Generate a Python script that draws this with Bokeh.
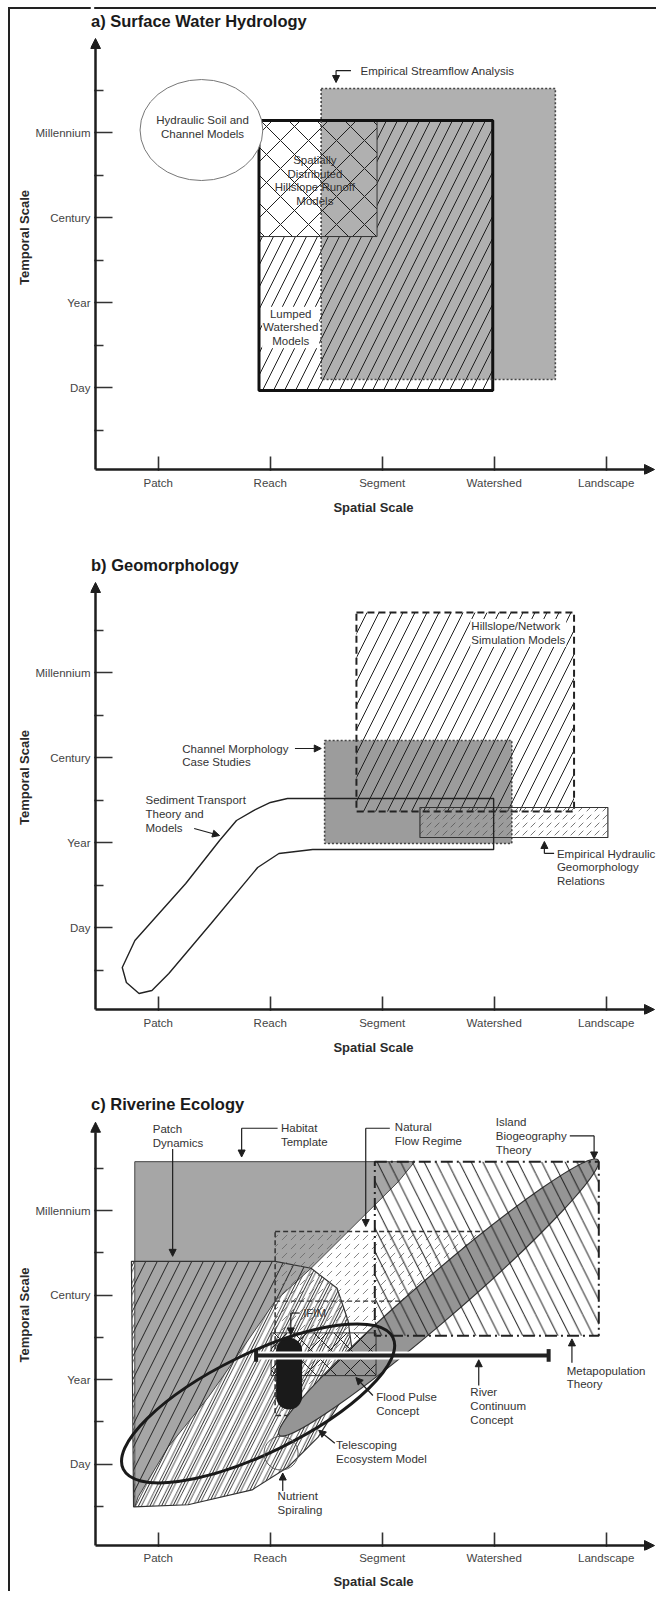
from bokeh.plotting import figure
from bokeh.layouts import column
from bokeh.models import Range1d, FixedTicker, Label, Arrow, NormalHead, BoxAnnotation
from bokeh.embed import file_html
from bokeh.resources import INLINE

FONT = "Liberation Sans"
INK = "#1e1e1e"
TEXT = "#333333"
TICK_TEXT = "#444444"
GRAY_A = "#b0b0b0"
GRAY_B = "#9c9c9c"
GRAY_C = "#a6a6a6"
GRAY_ISLAND = "#959595"

# ---------------- axis categories ----------------
x_ticks = [1, 2, 3, 4, 5]
x_labels = ["Patch", "Reach", "Segment", "Watershed", "Landscape"]
y_ticks = [1, 2, 3, 4]
y_labels = ["Day", "Year", "Century", "Millennium"]
y_minor = [0.5, 1.5, 2.5, 3.5, 4.5]

# ---------------- a) Surface Water Hydrology (spatial x, temporal y extents) ----------------
streamflow_x = [2.455, 4.546]
streamflow_y = [1.094, 4.518]
lumped_x = [1.900, 3.987]
lumped_y = [0.965, 4.141]
distributed_x = [1.900, 2.954]
distributed_y = [2.776, 4.141]
hydraulic_xy = [1.386, 4.029]
hydraulic_wh = [1.096, 1.188]

# ---------------- b) Geomorphology ----------------
hillslope_x = [2.770, 4.713]
hillslope_y = [2.365, 4.706]
channel_x = [2.486, 4.157]
channel_y = [1.988, 3.200]
hydgeo_x = [3.337, 5.015]
hydgeo_y = [2.059, 2.412]
sediment_x = [3.995, 2.154, 2.002, 1.851, 1.699, 1.548, 1.246, 0.792, 0.679, 0.716,
              0.829, 0.944, 1.095, 1.472, 1.888, 2.078, 2.380, 3.995]
sediment_y = [2.518, 2.518, 2.471, 2.376, 2.259, 2.024, 1.518, 0.847, 0.529, 0.353,
              0.224, 0.259, 0.459, 1.047, 1.706, 1.871, 1.918, 1.918]

# ---------------- c) Riverine Ecology ----------------
habitat_x = [0.791, 3.291, 3.142, 2.365, 2.044, 1.651, 1.446, 1.088, 0.821, 0.791]
habitat_y = [4.580, 4.580, 4.341, 3.318, 2.929, 2.176, 1.788, 1.200, 0.612, 0.494]
patchdyn_x = [0.761, 2.044, 2.365, 2.597, 2.696, 2.740, 2.651, 2.428, 2.160, 1.838, 1.267, 0.780]
patchdyn_y = [3.400, 3.400, 3.318, 3.082, 2.694, 2.259, 1.788, 1.318, 0.965, 0.694, 0.518, 0.494]
flowreg_x = [2.044, 4.196, 2.276, 2.044]
flowreg_y = [3.753, 3.753, 1.576, 1.576]
flowreg_inner_x = [2.044, 3.200]
flowreg_inner_y = [2.929, 2.929]
metapop_x = [2.934, 4.934]
metapop_y = [2.518, 4.580]
island_xy = [3.504, 2.971]
island_wh = [3.76, 0.518]
island_angle = 0.712
flood_x = [2.008, 2.945]
flood_y = [2.047, 2.553]
ifim_x = [2.169, 2.169]
ifim_y = [1.800, 2.341]
continuum_x = [1.874, 4.486]
continuum_y = [2.286, 2.286]
telescoping_xy = [1.892, 1.718]
telescoping_wh = [2.679, 1.176]
telescoping_angle = 0.454
nutrient_xy = [2.097, 1.129]
nutrient_wh = [0.304, 0.400]

# ---------------- frame geometry ----------------
FIG_W = 656
PX_X, PX_Y = 112.0, 85.0          # pixels per scale step
BORDER_LEFT = 90
X_AXIS = 1 - 62.7 / PX_X          # the temporal axis stands 5 px inside the frame
X_START = X_AXIS - 5 / PX_X
X_END = X_START + (FIG_W - BORDER_LEFT) / PX_X
X_ARROW = X_START + 564 / PX_X
Y_END = 4 + 132 / PX_Y
Y_AXIS = 4 - (469 - 132) / PX_Y   # the spatial axis stands 5 px above the frame bottom
Y_START = 4 - (474 - 132) / PX_Y


def base_figure(height, title, title_xy, y_arrow_top, tick_standoff=2, label_standoff=8):
    p = figure(width=FIG_W, height=height, x_range=Range1d(X_START, X_END),
               y_range=Range1d(Y_START, Y_END),
               output_backend="svg", toolbar_location=None, title=None,
               min_border_left=BORDER_LEFT, min_border_right=0, min_border_top=0,
               min_border_bottom=height - 474)
    p.xgrid.visible = False
    p.ygrid.visible = False
    p.outline_line_color = None
    p.background_fill_color = None
    p.border_fill_color = None
    xa = p.xaxis[0]
    ya = p.yaxis[0]
    xa.ticker = FixedTicker(ticks=x_ticks, minor_ticks=[])
    xa.major_label_overrides = {t: l for t, l in zip(x_ticks, x_labels)}
    ya.ticker = FixedTicker(ticks=y_ticks, minor_ticks=y_minor)
    ya.major_label_overrides = {t: l for t, l in zip(y_ticks, y_labels)}
    for ax in (xa, ya):
        ax.axis_line_color = None
        ax.major_tick_out = -3
        ax.minor_tick_out = -3
        ax.major_tick_line_color = "#333333"
        ax.major_tick_line_width = 1.6
        ax.minor_tick_line_color = "#333333"
        ax.minor_tick_line_width = 1.6
        ax.major_label_text_font = FONT
        ax.major_label_text_font_size = "11.5px"
        ax.major_label_text_color = TICK_TEXT
        ax.axis_label_text_font = FONT
        ax.axis_label_text_font_style = "bold"
        ax.axis_label_text_font_size = "13px"
        ax.axis_label_text_color = "#2a2a2a"
    xa.major_tick_in = 18
    ya.major_tick_in = 22
    ya.minor_tick_in = 13
    xa.major_label_standoff = tick_standoff
    ya.major_label_standoff = 3
    xa.axis_label = "Spatial Scale"
    ya.axis_label = "Temporal Scale"
    xa.axis_label_standoff = label_standoff
    ya.axis_label_standoff = 1
    # white strips keep the frame edge clean outside the arrowed axis lines
    p.add_layout(BoxAnnotation(right=X_AXIS - 1.3 / PX_X, fill_color="white", fill_alpha=1,
                               line_color=None))
    p.add_layout(BoxAnnotation(top=Y_AXIS - 1.3 / PX_Y, fill_color="white", fill_alpha=1,
                               line_color=None))
    head = dict(size=10, fill_color=INK, line_color=INK, line_width=1)
    p.add_layout(Arrow(end=NormalHead(**head), x_start=X_AXIS, y_start=Y_AXIS, x_end=X_AXIS,
                       y_end=y_arrow_top, line_color=INK, line_width=2.5))
    p.add_layout(Arrow(end=NormalHead(**head), x_start=X_AXIS, y_start=Y_AXIS, x_end=X_ARROW,
                       y_end=Y_AXIS, line_color=INK, line_width=2.5))
    p.add_layout(Label(x=title_xy[0], y=title_xy[1], text=title, text_font=FONT,
                       text_font_style="bold", text_font_size="16.5px", text_color="#1a1a1a",
                       text_baseline="middle", text_align="left"))
    return p


def label(p, x, y, text, align="left", bg=None):
    p.add_layout(Label(x=x, y=y, text=text, text_font=FONT, text_font_size="11.5px",
                       text_color=TEXT, text_align=align, text_baseline="middle",
                       text_line_height=1.15, background_fill_color=bg,
                       padding=1 if bg else 0))


def leader(p, xs, ys):
    if len(xs) > 2:
        p.line(xs[:-1], ys[:-1], line_color=INK, line_width=1.2)
    p.add_layout(Arrow(end=NormalHead(size=7, fill_color=INK, line_color=INK, line_width=1),
                       x_start=xs[-2], y_start=ys[-2], x_end=xs[-1], y_end=ys[-1],
                       line_color=INK, line_width=1.2))


def box(p, xs, ys, **kw):
    return p.quad(left=[xs[0]], right=[xs[1]], bottom=[ys[0]], top=[ys[1]], **kw)


# ======================= panel a =======================
pa = base_figure(540, "a) Surface Water Hydrology", (0.400, 5.306), 5.106)
box(pa, streamflow_x, streamflow_y, fill_color=GRAY_A, line_color=None)
box(pa, lumped_x, lumped_y, fill_color=None, line_color=None,
    hatch_pattern="right_diagonal_line", hatch_scale=22, hatch_weight=1, hatch_color=INK)
box(pa, distributed_x, distributed_y, fill_color="white", line_color=None)
ov_x = [max(streamflow_x[0], distributed_x[0]), min(streamflow_x[1], distributed_x[1])]
ov_y = [max(streamflow_y[0], distributed_y[0]), min(streamflow_y[1], distributed_y[1])]
box(pa, ov_x, ov_y, fill_color=GRAY_A, line_color=None)
box(pa, distributed_x, distributed_y, fill_color=None, line_color="#333333", line_width=1,
    hatch_pattern="diagonal_cross", hatch_scale=28, hatch_weight=1, hatch_color=INK)
box(pa, lumped_x, lumped_y, fill_color=None, line_color="#111111", line_width=3)
box(pa, streamflow_x, streamflow_y, fill_color=None, line_color="#444444", line_width=1.6, line_dash="2 2")
pa.ellipse(x=[hydraulic_xy[0]], y=[hydraulic_xy[1]], width=[hydraulic_wh[0]], height=[hydraulic_wh[1]],
           fill_color="white", line_color="#777777", line_width=1)

label(pa, 2.807, 4.729, "Empirical Streamflow Analysis")
leader(pa, [2.721, 2.588, 2.588], [4.729, 4.729, 4.588])
label(pa, 1.396, 4.062, "Hydraulic Soil and\nChannel Models", align="center")
label(pa, 2.399, 3.435, "Spatially\nDistributed\nHillslope Runoff\nModels", align="center")
label(pa, 2.183, 1.706, "Lumped\nWatershed\nModels", align="center", bg="white")

# ======================= panel b =======================
pb = base_figure(539, "b) Geomorphology", (0.400, 5.259), 5.059)
box(pb, channel_x, channel_y, fill_color=GRAY_B, line_color=None)
box(pb, hillslope_x, hillslope_y, fill_color=None, line_color="#222222", line_width=2, line_dash="7 4",
    hatch_pattern="right_diagonal_line", hatch_scale=24, hatch_weight=1, hatch_color=INK)
box(pb, channel_x, channel_y, fill_color=None, line_color="#444444", line_width=1.6, line_dash="2 2")
box(pb, hydgeo_x, hydgeo_y, fill_color=None, line_color="#333333", line_width=1.2,
    hatch_pattern="right_diagonal_dash", hatch_scale=8, hatch_weight=0.8, hatch_color="#555555")
pb.patch(sediment_x, sediment_y, fill_color=None, line_color="#222222", line_width=1.4)

label(pb, 3.787, 4.465, "Hillslope/Network\nSimulation Models", bg="white")
label(pb, 1.215, 3.024, "Channel Morphology\nCase Studies")
leader(pb, [2.221, 2.456], [3.106, 3.106])
label(pb, 0.887, 2.335, "Sediment Transport\nTheory and\nModels")
leader(pb, [1.321, 1.548], [2.165, 2.082])
label(pb, 4.560, 1.706, "Empirical Hydraulic\nGeomorphology\nRelations")
leader(pb, [4.535, 4.448, 4.448], [1.871, 1.871, 2.012])

# ======================= panel c =======================
pc = base_figure(512, "c) Riverine Ecology", (0.400, 5.259), 5.047, tick_standoff=1, label_standoff=7)
pc.patch(patchdyn_x, patchdyn_y, fill_color=None, line_color=None,
         hatch_pattern="right_diagonal_line", hatch_scale=11.5, hatch_weight=0.9, hatch_color="#333333")
pc.patch(habitat_x, habitat_y, fill_color=GRAY_C, line_color="#444444", line_width=1)
pc.patch(patchdyn_x, patchdyn_y, fill_color=None, line_color="#333333", line_width=1.2,
         hatch_pattern="right_diagonal_line", hatch_scale=23, hatch_weight=1, hatch_color="#222222")
pc.patch(flowreg_x, flowreg_y, fill_color=None, line_color="#333333", line_width=1.5, line_dash="5 3",
         hatch_pattern="right_diagonal_dash", hatch_scale=9, hatch_weight=0.8, hatch_color="#666666")
pc.line(flowreg_inner_x, flowreg_inner_y, line_color="#333333", line_width=1.3, line_dash="5 3")
pc.ellipse(x=[island_xy[0]], y=[island_xy[1]], width=[island_wh[0]], height=[island_wh[1]],
           angle=island_angle, fill_color=GRAY_ISLAND, line_color="#333333", line_width=1.2)
box(pc, metapop_x, metapop_y, fill_color=None, line_color="#222222", line_width=2, line_dash="12 4 2 4",
    hatch_pattern="left_diagonal_line", hatch_scale=23.5, hatch_weight=1, hatch_color=INK)
box(pc, flood_x, flood_y, fill_color=None, line_color="#333333", line_width=1,
    hatch_pattern="diagonal_cross", hatch_scale=20, hatch_weight=1, hatch_color=INK)
pc.line(ifim_x, ifim_y, line_color="#1a1a1a", line_width=26, line_cap="round")
pc.line(continuum_x, continuum_y, line_color="white", line_width=8)
pc.line(continuum_x, continuum_y, line_color="#222222", line_width=4)
pc.segment(x0=continuum_x, y0=[v - 0.075 for v in continuum_y], x1=continuum_x,
           y1=[v + 0.075 for v in continuum_y], line_color="#222222", line_width=4)
pc.ellipse(x=[telescoping_xy[0]], y=[telescoping_xy[1]], width=[telescoping_wh[0]],
           height=[telescoping_wh[1]], angle=telescoping_angle, fill_color=None,
           line_color="#1a1a1a", line_width=3)
pc.ellipse(x=[nutrient_xy[0]], y=[nutrient_xy[1]], width=[nutrient_wh[0]], height=[nutrient_wh[1]],
           fill_color=None, line_color="#555555", line_width=1)

label(pc, 0.951, 4.888, "Patch\nDynamics")
leader(pc, [1.129, 1.129], [4.729, 3.459])
label(pc, 2.096, 4.900, "Habitat\nTemplate")
leader(pc, [2.066, 1.745, 1.745], [4.976, 4.976, 4.635])
label(pc, 3.113, 4.912, "Natural\nFlow Regime")
leader(pc, [3.068, 2.853, 2.853], [4.976, 4.976, 3.812])
label(pc, 4.014, 4.886, "Island\nBiogeography\nTheory")
leader(pc, [4.675, 4.892, 4.892], [4.886, 4.886, 4.612])
label(pc, 2.294, 2.788, "IFIM")
leader(pc, [2.264, 2.184, 2.184], [2.788, 2.788, 2.529])
label(pc, 2.947, 1.712, "Flood Pulse\nConcept")
leader(pc, [2.917, 2.765], [1.812, 2.024])
label(pc, 3.787, 1.688, "River\nContinuum\nConcept")
leader(pc, [3.862, 3.862], [1.929, 2.235])
label(pc, 4.648, 2.024, "Metapopulation\nTheory")
leader(pc, [4.694, 4.694], [2.200, 2.482])
label(pc, 2.588, 1.141, "Telescoping\nEcosystem Model")
leader(pc, [2.577, 2.433], [1.247, 1.400])
label(pc, 2.066, 0.535, "Nutrient\nSpiraling")
leader(pc, [2.112, 2.112], [0.682, 0.894])

LINE = "linear-gradient(#222222, #222222)"
pa.styles = {"background": f"{LINE} 8px 7px / 100% 2px no-repeat, {LINE} 8px 7px / 2px 100% no-repeat"}
pb.styles = {"background": f"{LINE} 8px 0px / 2px 100% no-repeat"}
pc.styles = {"background": f"{LINE} 8px 0px / 2px 100% no-repeat"}

layout = column(pa, pb, pc, spacing=0)
open("out.html", "w").write(file_html(layout, INLINE))
